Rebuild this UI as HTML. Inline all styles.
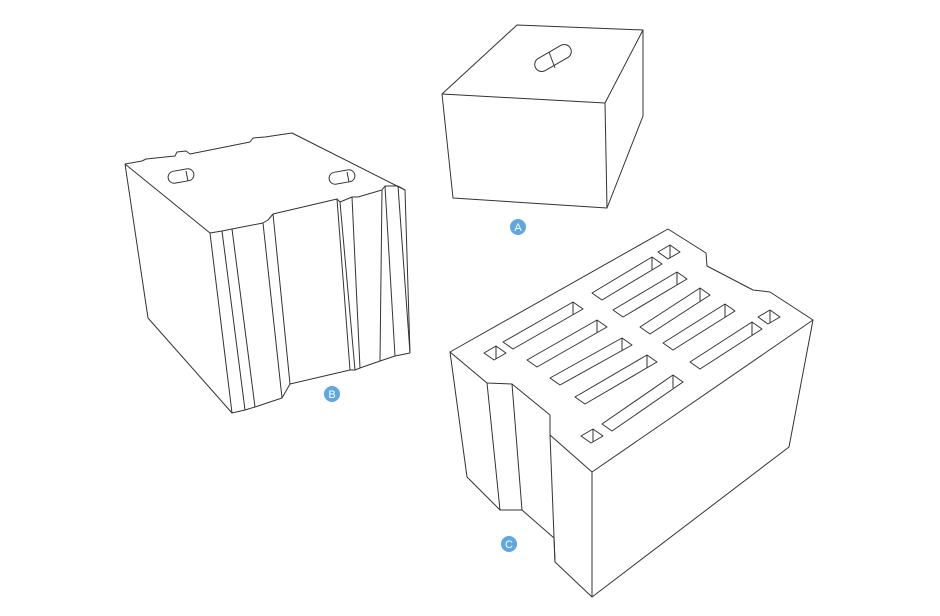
<!DOCTYPE html>
<html><head><style>
html,body{margin:0;padding:0;background:#fff;width:940px;height:616px;overflow:hidden}
</style></head><body>
<svg width="940" height="616" viewBox="0 0 940 616" xmlns="http://www.w3.org/2000/svg">
<g fill="none" stroke="#333" stroke-width="1" stroke-linejoin="round">
<!-- Block A -->
<polygon points="517,25 643,30 605,103 442,94" fill="#fff"/>
<polyline points="442,94 453,198 607,208 605,103"/>
<polyline points="643,30 643,116 607,208"/>
<g transform="translate(553,58) rotate(-30)"><rect x="-20" y="-7" width="40" height="14" rx="7"/></g>
<line x1="549" y1="52" x2="555" y2="68"/>
<!-- Block B -->
<polyline points="125,164 142,161 146,159 175,156 177,152 186,151 190,154 250,142 253,138 265,137 292,133 405,190 410,353"/>
<polyline points="125,164 148,318 232,413"/>
<polyline points="125,164 210,233 222,231 232,229 263,223 268,220 273,214 337,199 340,202 352,197 358,197 382,190 385,186 398,186 405,190"/>
<polyline points="210,233 232,413 245,410 255,407 282,398 290,384 350,370 355,370 360,368 380,361 395,356 410,353"/>
<line x1="222" y1="231" x2="245" y2="410"/>
<line x1="232" y1="229" x2="255" y2="407"/>
<line x1="263" y1="223" x2="282" y2="398"/>
<line x1="273" y1="214" x2="290" y2="384"/>
<line x1="337" y1="199" x2="350" y2="370"/>
<line x1="340" y1="202" x2="355" y2="370"/>
<line x1="352" y1="197" x2="360" y2="368"/>
<line x1="382" y1="190" x2="380" y2="361"/>
<line x1="385" y1="186" x2="395" y2="356"/>
<line x1="398" y1="186" x2="410" y2="353"/>
<g transform="translate(181,176) rotate(-10)"><rect x="-13" y="-6" width="26" height="12" rx="6"/></g>
<line x1="186" y1="171" x2="188" y2="181"/>
<g transform="translate(342,177) rotate(-10)"><rect x="-13" y="-6" width="26" height="12" rx="6"/></g>
<line x1="347" y1="172" x2="349" y2="182"/>
<!-- Block C -->
<polygon points="450,352 668,229 706,253 707,266 753,290 770,292 813,320 592,472 550,435 550,415 512,384 487,383" fill="#fff"/>
<polyline points="813,320 789,447 592,597 592,472"/>
<polyline points="450,352 467,477 500,510 522,510 554,538 555,562 592,597"/>
<line x1="487" y1="383" x2="500" y2="510"/>
<line x1="512" y1="384" x2="522" y2="510"/>
<line x1="550" y1="435" x2="555" y2="562"/>
<!-- slots -->
<g>
<polygon points="503,342 573,302 583,309 513,349"/><line x1="573" y1="302" x2="573" y2="315"/>
<polygon points="527,360 597,320 607,327 537,367"/><line x1="597" y1="320" x2="597" y2="333"/>
<polygon points="550,378 622,338 632,345 560,385"/><line x1="622" y1="338" x2="622" y2="351"/>
<polygon points="575,397 647,355 657,362 585,404"/><line x1="647" y1="355" x2="647" y2="368"/>
<polygon points="602,424 673,375 683,382 612,431"/><line x1="673" y1="375" x2="673" y2="388"/>
<polygon points="592,293 652,257 662,264 602,300"/><line x1="652" y1="257" x2="652" y2="270"/>
<polygon points="613,310 677,272 687,279 623,317"/><line x1="677" y1="272" x2="677" y2="285"/>
<polygon points="640,327 700,288 710,295 650,334"/><line x1="700" y1="288" x2="700" y2="301"/>
<polygon points="663,343 725,304 735,311 673,350"/><line x1="725" y1="304" x2="725" y2="317"/>
<polygon points="690,362 752,322 762,329 700,369"/><line x1="752" y1="322" x2="752" y2="335"/>
<polygon points="484,353 496,346 506,353 494,360"/><line x1="496" y1="346" x2="496" y2="359"/>
<polygon points="581,436 593,429 603,436 591,443"/><line x1="593" y1="429" x2="593" y2="442"/>
<polygon points="658,252 670,245 680,252 668,259"/><line x1="670" y1="245" x2="670" y2="258"/>
<polygon points="758,317 770,310 780,317 768,324"/><line x1="770" y1="310" x2="770" y2="323"/>
</g>
</g>
<g font-family="Liberation Sans, sans-serif" font-size="11" fill="#fff" text-anchor="middle">
<circle cx="518" cy="227" r="8" fill="#5ea7e2"/><text x="518" y="231">A</text>
<circle cx="332" cy="394" r="8" fill="#5ea7e2"/><text x="332" y="398">B</text>
<circle cx="509" cy="544" r="8" fill="#5ea7e2"/><text x="509" y="548">C</text>
</g>
</svg>
</body></html>
